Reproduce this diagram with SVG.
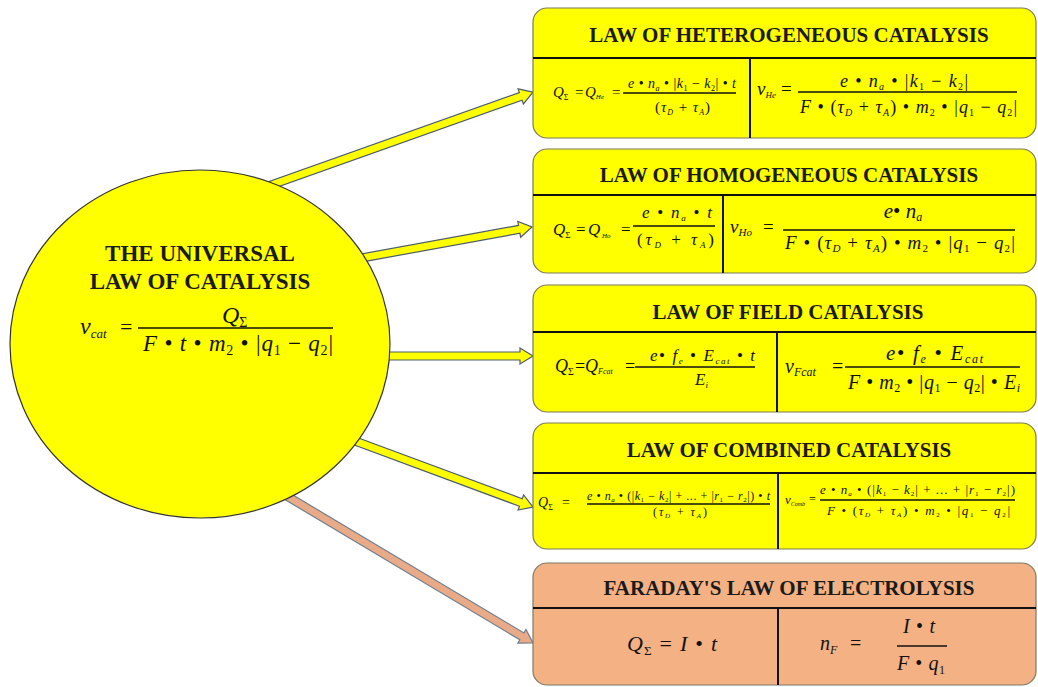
<svg xmlns="http://www.w3.org/2000/svg" width="1038" height="687" viewBox="0 0 1038 687">
<style>
.t{font-family:"Liberation Serif","Times New Roman",serif;font-weight:bold;text-anchor:middle;fill:#1a1a1a}
.m{font-family:"Liberation Serif","Times New Roman",serif;font-style:italic;fill:#111}
.u{font-style:normal}
.c{text-anchor:middle}
.bar{stroke:#111;stroke-width:1.3}
.div{stroke:#111;stroke-width:2}
.by{fill:#FFFF00;stroke:#7b7b5b;stroke-width:1.2}
.bo{fill:#F4B183;stroke:#7b7b6b;stroke-width:1.2}
.ay{fill:#FFFF00;stroke:#4d5b6b;stroke-width:1.2}
.ao{fill:#E9AA88;stroke:#6f7f8f;stroke-width:1.2}
</style>
<rect width="1038" height="687" fill="#ffffff"/>
<g id="connectors">
<path class="ay" transform="translate(249,193) rotate(-19.57)" d="M0,-4 H288.4 V-8 L301.4,0 L288.4,8 V4 H0 Z"/>
<path class="ay" transform="translate(301,269) rotate(-10.3)" d="M0,-4 H221.8 V-8 L234.8,0 L221.8,8 V4 H0 Z"/>
<path class="ay" transform="translate(350,356)" d="M0,-4 H170 V-8 L183,0 L170,8 V4 H0 Z"/>
<path class="ay" transform="translate(320,428) rotate(20.35)" d="M0,-4 H214.2 V-8 L227.2,0 L214.2,8 V4 H0 Z"/>
<path class="ao" transform="translate(260,480) rotate(30.84)" d="M0,-4 H305 V-8 L318,0 L305,8 V4 H0 Z"/>
</g>
<g id="universal">
<ellipse cx="200" cy="344" rx="190" ry="174" fill="#FFFF00" stroke="#333" stroke-width="1.2"/>
<text class="t" x="200" y="261" font-size="23">THE UNIVERSAL</text>
<text class="t" x="200" y="289" font-size="23">LAW OF CATALYSIS</text>
<text class="m" x="80" y="334" font-size="24">v<tspan font-size="13" dy="4">cat</tspan></text>
<text class="m u" x="120" y="334" font-size="22">=</text>
<text class="m" x="222" y="323" font-size="24">Q<tspan class="u" font-size="14" dy="4">Σ</tspan></text>
<line class="bar" x1="138" y1="328" x2="333" y2="328"/>
<text class="m" x="143" y="351" font-size="23" textLength="190" lengthAdjust="spacing">F<tspan class="u"> • </tspan>t<tspan class="u"> • </tspan>m<tspan class="u" font-size="14" dy="4">2</tspan><tspan class="u" dy="-4"> • |</tspan>q<tspan class="u" font-size="14" dy="4">1</tspan><tspan class="u" dy="-4"> − </tspan>q<tspan class="u" font-size="14" dy="4">2</tspan><tspan class="u" dy="-4">|</tspan></text>
</g>
<g id="heterogeneous">
<rect class="by" x="533" y="8" width="503" height="130" rx="14"/>
<line class="div" x1="533" y1="58" x2="1036" y2="58"/>
<line class="div" x1="750" y1="58" x2="750" y2="138"/>
<text class="t" x="789" y="42" font-size="21">LAW OF HETEROGENEOUS CATALYSIS</text>
<text class="m" x="553" y="97" font-size="15">Q<tspan class="u" font-size="8" dy="3">Σ</tspan></text>
<text class="m u" x="575" y="97" font-size="15">=</text>
<text class="m" x="585" y="97" font-size="15">Q<tspan font-size="7" dy="2">He</tspan></text>
<text class="m u" x="612" y="97" font-size="15">=</text>
<line class="bar" x1="623" y1="93" x2="736" y2="93"/>
<text class="m" x="628" y="88" font-size="14" textLength="108" lengthAdjust="spacing">e<tspan class="u"> • </tspan>n<tspan font-size="8" dy="3">a</tspan><tspan class="u" dy="-3"> • |</tspan>k<tspan class="u" font-size="8" dy="3">1</tspan><tspan class="u" dy="-3"> − </tspan>k<tspan class="u" font-size="8" dy="3">2</tspan><tspan class="u" dy="-3">| • </tspan>t</text>
<text class="m" x="655" y="112" font-size="15" textLength="55" lengthAdjust="spacing"><tspan class="u">(</tspan>τ<tspan font-size="8" dy="3">D</tspan><tspan class="u" dy="-3"> + </tspan>τ<tspan font-size="8" dy="3">A</tspan><tspan class="u" dy="-3">)</tspan></text>
<text class="m" x="757" y="95" font-size="19">v<tspan font-size="9" dy="3">He</tspan></text>
<text class="m u" x="781" y="95" font-size="19">=</text>
<text class="m" x="840" y="87" font-size="18" textLength="128" lengthAdjust="spacing">e<tspan class="u"> • </tspan>n<tspan font-size="10" dy="3">a</tspan><tspan class="u" dy="-3"> • |</tspan>k<tspan class="u" font-size="10" dy="3">1</tspan><tspan class="u" dy="-3"> − </tspan>k<tspan class="u" font-size="10" dy="3">2</tspan><tspan class="u" dy="-3">|</tspan></text>
<line class="bar" x1="798" y1="92" x2="1017" y2="92"/>
<text class="m" x="800" y="113" font-size="18" textLength="217" lengthAdjust="spacing">F<tspan class="u"> • (</tspan>τ<tspan font-size="10" dy="3">D</tspan><tspan class="u" dy="-3"> + </tspan>τ<tspan font-size="10" dy="3">A</tspan><tspan class="u" dy="-3">) • </tspan>m<tspan class="u" font-size="10" dy="3">2</tspan><tspan class="u" dy="-3"> • |</tspan>q<tspan class="u" font-size="10" dy="3">1</tspan><tspan class="u" dy="-3"> − </tspan>q<tspan class="u" font-size="10" dy="3">2</tspan><tspan class="u" dy="-3">|</tspan></text>
</g>
<g id="homogeneous">
<rect class="by" x="533" y="149" width="503" height="124" rx="14"/>
<line class="div" x1="533" y1="195" x2="1036" y2="195"/>
<line class="div" x1="723" y1="195" x2="723" y2="273"/>
<text class="t" x="789" y="182" font-size="21">LAW OF HOMOGENEOUS CATALYSIS</text>
<text class="m" x="553" y="235" font-size="17">Q<tspan class="u" font-size="9" dy="3">Σ</tspan></text>
<text class="m u" x="576" y="235" font-size="17">=</text>
<text class="m" x="588" y="235" font-size="17">Q<tspan font-size="7" dy="3"> Ho</tspan></text>
<text class="m u" x="621" y="235" font-size="17">=</text>
<line class="bar" x1="633" y1="226" x2="715" y2="226"/>
<text class="m" x="642" y="218" font-size="17" textLength="70" lengthAdjust="spacing">e<tspan class="u"> • </tspan>n<tspan font-size="9" dy="3">a</tspan><tspan class="u" dy="-3"> • </tspan>t</text>
<text class="m" x="637" y="245" font-size="17" textLength="77" lengthAdjust="spacing"><tspan class="u">(</tspan>τ<tspan font-size="9" dy="3">D</tspan><tspan class="u" dy="-3"> + </tspan>τ<tspan font-size="9" dy="3">A</tspan><tspan class="u" dy="-3">)</tspan></text>
<text class="m" x="730" y="233" font-size="19">v<tspan font-size="11" dy="3">Ho</tspan></text>
<text class="m u" x="763" y="233" font-size="19">=</text>
<text class="m c" x="903" y="218" font-size="21">e<tspan class="u">• </tspan>n<tspan font-size="12" dy="3">a</tspan></text>
<line class="bar" x1="783" y1="230" x2="1015" y2="230"/>
<text class="m" x="785" y="249" font-size="19" textLength="230" lengthAdjust="spacing">F<tspan class="u"> • (</tspan>τ<tspan font-size="11" dy="3">D</tspan><tspan class="u" dy="-3"> + </tspan>τ<tspan font-size="11" dy="3">A</tspan><tspan class="u" dy="-3">) • </tspan>m<tspan class="u" font-size="11" dy="3">2</tspan><tspan class="u" dy="-3"> • |</tspan>q<tspan class="u" font-size="11" dy="3">1</tspan><tspan class="u" dy="-3"> − </tspan>q<tspan class="u" font-size="11" dy="3">2</tspan><tspan class="u" dy="-3">|</tspan></text>
</g>
<g id="field">
<rect class="by" x="533" y="285" width="503" height="127" rx="14"/>
<line class="div" x1="533" y1="332" x2="1036" y2="332"/>
<line class="div" x1="777" y1="332" x2="777" y2="412"/>
<text class="t" x="788" y="319" font-size="21">LAW OF FIELD CATALYSIS</text>
<text class="m" x="555" y="372" font-size="18">Q<tspan class="u" font-size="10" dy="3">Σ</tspan></text>
<text class="m u" x="575" y="372" font-size="18">=</text>
<text class="m" x="585" y="372" font-size="18">Q<tspan font-size="8" dy="2">Fcat</tspan></text>
<text class="m u" x="625" y="372" font-size="18">=</text>
<line class="bar" x1="635" y1="367" x2="755" y2="367"/>
<text class="m" x="650" y="361" font-size="17" textLength="105" lengthAdjust="spacing">e<tspan class="u">• </tspan>f<tspan font-size="9" dy="3">e</tspan><tspan class="u" dy="-3"> • </tspan>E<tspan font-size="9" dy="3">cat</tspan><tspan class="u" dy="-3"> • </tspan>t</text>
<text class="m" x="695" y="385" font-size="17">E<tspan font-size="9" dy="3">i</tspan></text>
<text class="m" x="785" y="373" font-size="20">v<tspan font-size="12" dy="3">Fcat</tspan></text>
<text class="m u" x="832" y="373" font-size="20">=</text>
<line class="bar" x1="845" y1="367" x2="1020" y2="367"/>
<text class="m" x="886" y="360" font-size="21" textLength="97" lengthAdjust="spacing">e<tspan class="u">• </tspan>f<tspan font-size="12" dy="3">e</tspan><tspan class="u" dy="-3"> • </tspan>E<tspan font-size="12" dy="3">cat</tspan></text>
<text class="m" x="848" y="389" font-size="20" textLength="172" lengthAdjust="spacing">F<tspan class="u"> • </tspan>m<tspan class="u" font-size="12" dy="3">2</tspan><tspan class="u" dy="-3"> • |</tspan>q<tspan class="u" font-size="12" dy="3">1</tspan><tspan class="u" dy="-3"> − </tspan>q<tspan class="u" font-size="12" dy="3">2</tspan><tspan class="u" dy="-3">| • </tspan>E<tspan font-size="12" dy="3">i</tspan></text>
</g>
<g id="combined">
<rect class="by" x="533" y="423" width="503" height="126" rx="14"/>
<line class="div" x1="533" y1="473" x2="1036" y2="473"/>
<line class="div" x1="778" y1="473" x2="778" y2="549"/>
<text class="t" x="789" y="457" font-size="21">LAW OF COMBINED CATALYSIS</text>
<text class="m" x="538" y="507" font-size="14">Q<tspan class="u" font-size="8" dy="3">Σ</tspan></text>
<text class="m u" x="562" y="507" font-size="14">=</text>
<text class="m" x="587" y="500" font-size="12" textLength="183" lengthAdjust="spacing">e<tspan class="u"> • </tspan>n<tspan font-size="7" dy="2">a</tspan><tspan class="u" dy="-2"> • (|</tspan>k<tspan class="u" font-size="7" dy="2">1</tspan><tspan class="u" dy="-2"> − </tspan>k<tspan class="u" font-size="7" dy="2">2</tspan><tspan class="u" dy="-2">| + ... + |</tspan>r<tspan class="u" font-size="7" dy="2">1</tspan><tspan class="u" dy="-2"> − </tspan>r<tspan class="u" font-size="7" dy="2">2</tspan><tspan class="u" dy="-2">|) • </tspan>t</text>
<line class="bar" x1="587" y1="504" x2="770" y2="504"/>
<text class="m" x="653" y="516" font-size="12" textLength="54" lengthAdjust="spacing"><tspan class="u">(</tspan>τ<tspan font-size="7" dy="2">D</tspan><tspan class="u" dy="-2"> + </tspan>τ<tspan font-size="7" dy="2">A</tspan><tspan class="u" dy="-2">)</tspan></text>
<text class="m" x="785" y="504" font-size="13">v<tspan font-size="6" dy="2">Comb</tspan></text>
<text class="m u" x="809" y="503" font-size="12">=</text>
<text class="m" x="820" y="494" font-size="13" textLength="195" lengthAdjust="spacing">e<tspan class="u"> • </tspan>n<tspan font-size="7" dy="2">a</tspan><tspan class="u" dy="-2"> • (|</tspan>k<tspan class="u" font-size="7" dy="2">1</tspan><tspan class="u" dy="-2"> − </tspan>k<tspan class="u" font-size="7" dy="2">2</tspan><tspan class="u" dy="-2">| + ... + |</tspan>r<tspan class="u" font-size="7" dy="2">1</tspan><tspan class="u" dy="-2"> − </tspan>r<tspan class="u" font-size="7" dy="2">2</tspan><tspan class="u" dy="-2">|)</tspan></text>
<line class="bar" x1="820" y1="500" x2="1015" y2="500"/>
<text class="m" x="827" y="515" font-size="13" textLength="183" lengthAdjust="spacing">F<tspan class="u"> • (</tspan>τ<tspan font-size="7" dy="2">D</tspan><tspan class="u" dy="-2"> + </tspan>τ<tspan font-size="7" dy="2">A</tspan><tspan class="u" dy="-2">) • </tspan>m<tspan class="u" font-size="7" dy="2">2</tspan><tspan class="u" dy="-2"> • |</tspan>q<tspan class="u" font-size="7" dy="2">1</tspan><tspan class="u" dy="-2"> − </tspan>q<tspan class="u" font-size="7" dy="2">2</tspan><tspan class="u" dy="-2">|</tspan></text>
</g>
<g id="faraday">
<rect class="bo" x="533" y="563" width="503" height="122" rx="14"/>
<line class="div" x1="533" y1="608" x2="1036" y2="608"/>
<line class="div" x1="778" y1="608" x2="778" y2="685"/>
<text class="t" x="789" y="595" font-size="21">FARADAY'S LAW OF ELECTROLYSIS</text>
<text class="m" x="627" y="651" font-size="22" textLength="90" lengthAdjust="spacing">Q<tspan class="u" font-size="13" dy="4">Σ</tspan><tspan class="u" dy="-4"> = </tspan>I<tspan class="u"> • </tspan>t</text>
<text class="m" x="820" y="650" font-size="20">n<tspan font-size="12" dy="4">F</tspan></text>
<text class="m u" x="850" y="650" font-size="20">=</text>
<text class="m" x="903" y="633" font-size="20" textLength="32" lengthAdjust="spacing">I<tspan class="u"> • </tspan>t</text>
<line class="bar" x1="897" y1="646" x2="947" y2="646"/>
<text class="m" x="897" y="670" font-size="20" textLength="48" lengthAdjust="spacing">F<tspan class="u"> • </tspan>q<tspan class="u" font-size="12" dy="4">1</tspan></text>
</g>
</svg>
